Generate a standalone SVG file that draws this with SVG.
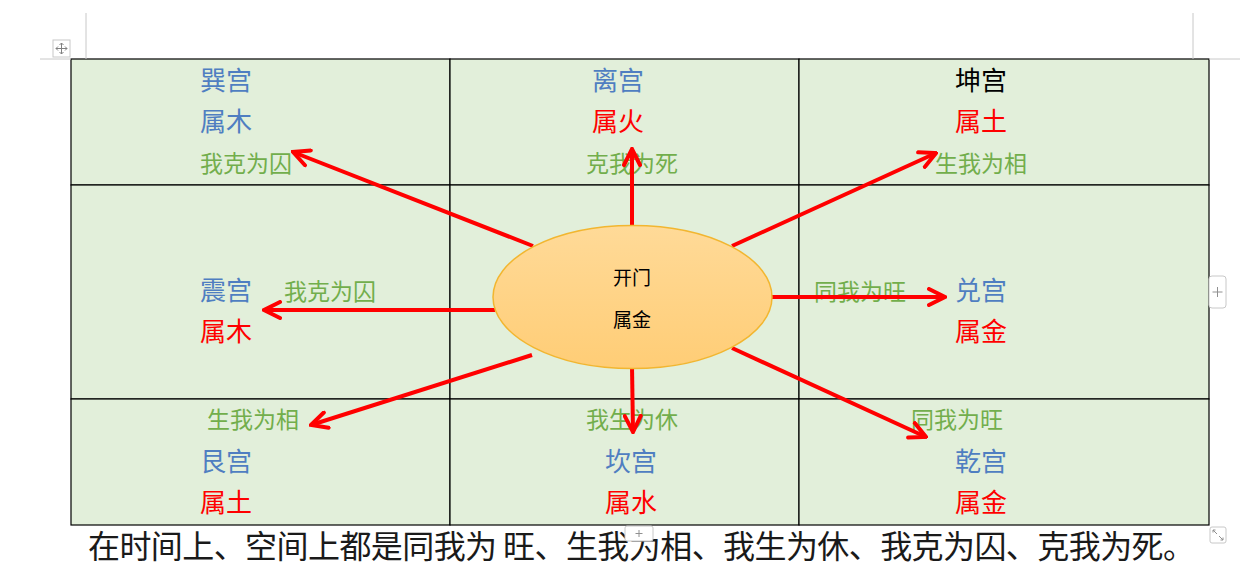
<svg xmlns="http://www.w3.org/2000/svg" width="1260" height="581" viewBox="0 0 1260 581">
<defs>
<style>
text{font-family:"Noto Sans CJK SC","Noto Sans",sans-serif;text-anchor:middle}
.pal{font-size:26px}
.lab{font-size:23px;fill:#72AE4C}
.blue{fill:#4F7EC1}
.red{fill:#FF0000}
.blk{fill:#000}
.cell{fill:#E2EFDA;stroke:#000;stroke-width:1.2}
.ui{stroke:#C8C8C8;stroke-width:1;fill:none}
.btn{fill:#fff;stroke:#C8C8C8;stroke-width:1}
.arrow{stroke:#FF0000;stroke-width:4;fill:none;marker-end:url(#ah)}
</style>
<marker id="ah" viewBox="0 0 10 10" refX="9" refY="5" markerWidth="5" markerHeight="5" orient="auto" markerUnits="strokeWidth">
<path d="M1,1 L9,5 L1,9" fill="none" stroke="#FF0000" stroke-width="2" stroke-linecap="round"/>
</marker>
<linearGradient id="eg" x1="0" y1="0" x2="0" y2="1">
<stop offset="0" stop-color="#FFDA98"/>
<stop offset="1" stop-color="#FFCD76"/>
</linearGradient>
</defs>
<rect width="1260" height="581" fill="#fff"/>
<g id="table">
<rect class="cell" x="71" y="59" width="379" height="126"/>
<rect class="cell" x="450" y="59" width="349" height="126"/>
<rect class="cell" x="799" y="59" width="410" height="126"/>
<rect class="cell" x="71" y="185" width="379" height="214"/>
<rect class="cell" x="450" y="185" width="349" height="214"/>
<rect class="cell" x="799" y="185" width="410" height="214"/>
<rect class="cell" x="71" y="399" width="379" height="126"/>
<rect class="cell" x="450" y="399" width="349" height="126"/>
<rect class="cell" x="799" y="399" width="410" height="126"/>
</g>
<g id="xun">
<text class="pal blue" x="226" y="90">巽宫</text>
<text class="pal blue" x="226" y="131">属木</text>
<text class="lab" x="246" y="172">我克为囚</text>
</g>
<g id="li">
<text class="pal blue" x="618" y="90">离宫</text>
<text class="pal red" x="618" y="131">属火</text>
<text class="lab" x="632" y="172">克我为死</text>
</g>
<g id="kun">
<text class="pal blk" x="981" y="90">坤宫</text>
<text class="pal red" x="981" y="131">属土</text>
<text class="lab" x="981" y="172">生我为相</text>
</g>
<g id="zhen">
<text class="pal blue" x="226" y="300">震宫</text>
<text class="pal red" x="226" y="341">属木</text>
<text class="lab" x="330" y="300">我克为囚</text>
</g>
<g id="dui">
<text class="lab" x="860" y="300">同我为旺</text>
<text class="pal blue" x="981" y="300">兑宫</text>
<text class="pal red" x="981" y="341">属金</text>
</g>
<g id="gen">
<text class="lab" x="253" y="428">生我为相</text>
<text class="pal blue" x="226" y="471">艮宫</text>
<text class="pal red" x="226" y="512">属土</text>
</g>
<g id="kan">
<text class="lab" x="632" y="428">我生为休</text>
<text class="pal blue" x="631" y="471">坎宫</text>
<text class="pal red" x="631" y="512">属水</text>
</g>
<g id="qian">
<text class="lab" x="957" y="428">同我为旺</text>
<text class="pal blue" x="981" y="471">乾宫</text>
<text class="pal red" x="981" y="512">属金</text>
</g>
<g id="connectors">
<line class="arrow" x1="632" y1="228" x2="632" y2="149"/>
<line class="arrow" x1="533" y1="246" x2="293" y2="152"/>
<line class="arrow" x1="732" y1="246" x2="936" y2="153"/>
<line class="arrow" x1="495" y1="310" x2="264" y2="310"/>
<line class="arrow" x1="770" y1="297" x2="945" y2="297"/>
<line class="arrow" x1="532" y1="355" x2="311" y2="425"/>
<line class="arrow" x1="632" y1="366" x2="633" y2="432"/>
<line class="arrow" x1="732" y1="348" x2="926" y2="437"/>
</g>
<g id="kaimen">
<ellipse cx="632.5" cy="297" rx="139.5" ry="71.5" fill="url(#eg)" stroke="#F2B630" stroke-width="1.5"/>
<text class="blk" x="632" y="284.5" style="font-size:19px">开门</text>
<text class="blk" x="632" y="326.5" style="font-size:19px">属金</text>
</g>
<g id="caption">
<text x="88" y="558" style="font-size:32px;text-anchor:start;fill:#1a1a1a" textLength="1107" lengthAdjust="spacing">在时间上、空间上都是同我为 旺、生我为相、我生为休、我克为囚、克我为死。</text>
</g>
<g id="ui">
<line class="ui" x1="86" y1="13" x2="86" y2="59"/>
<line class="ui" x1="40" y1="59" x2="71" y2="59"/>
<line class="ui" x1="1193" y1="13" x2="1193" y2="59"/>
<line class="ui" x1="1209" y1="59" x2="1240" y2="59"/>
<rect class="btn" x="53" y="40" width="17" height="17"/>
<path d="M61.5,43 V54 M56,48.5 H67 M59.5,45 L61.5,43 L63.5,45 M59.5,52 L61.5,54 L63.5,52 M58,46.5 L56,48.5 L58,50.5 M65,46.5 L67,48.5 L65,50.5" stroke="#808080" stroke-width="1" fill="none"/>
<rect class="btn" x="1209" y="276" width="17" height="32" rx="3"/>
<path d="M1217.5,287 V297 M1212.5,292 H1222.5" stroke="#909090" stroke-width="1"/>
<rect class="btn" x="625" y="526" width="28" height="15" rx="2"/>
<path d="M639,530 V537 M635.5,533.5 H642.5" stroke="#909090" stroke-width="1"/>
<rect class="btn" x="1210" y="527" width="16" height="16" rx="2"/>
<path d="M1213,530 L1217,534 M1213,530 h2.5 M1213,530 v2.5 M1223,540 L1219,536 M1223,540 h-2.5 M1223,540 v-2.5" stroke="#909090" stroke-width="1" fill="none"/>
</g>
</svg>
